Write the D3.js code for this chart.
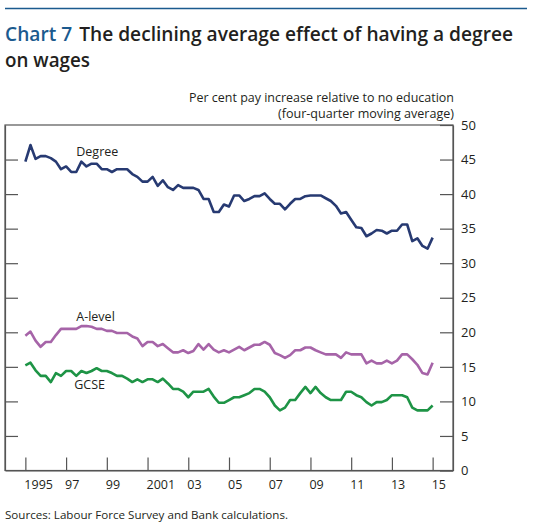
<!DOCTYPE html>
<html>
<head>
<meta charset="utf-8">
<script src="https://cdn.jsdelivr.net/npm/d3@7"></script>
<style>
  body { margin: 0; background: #fff; }
</style>
</head>
<body>
<div id="chart"></div>
<script>
// quarterly values, 1995 Q1 to 2015 Q1
var degree = [
  44.7, 47.1, 45.1, 45.5, 45.5, 45.2, 44.7, 43.6, 44.0, 43.2,
  43.2, 44.7, 44.0, 44.4, 44.4, 43.6, 43.6, 43.2, 43.6, 43.6,
  43.6, 42.9, 42.5, 41.8, 41.8, 42.5, 41.2, 42.0, 41.0, 40.6,
  41.3, 40.9, 40.9, 40.9, 40.6, 39.3, 39.3, 37.4, 37.4, 38.5,
  38.2, 39.8, 39.8, 39.0, 39.3, 39.7, 39.7, 40.1, 39.3, 38.6,
  38.6, 37.8, 38.6, 39.3, 39.3, 39.7, 39.8, 39.8, 39.8, 39.4,
  39.0, 38.3, 37.2, 37.4, 36.3, 35.2, 35.1, 33.9, 34.3, 34.8,
  34.7, 34.3, 34.7, 34.7, 35.6, 35.6, 33.2, 33.6, 32.5, 32.1,
  33.7
];
var aLevel = [
  19.5, 20.1, 18.8, 17.9, 18.6, 18.6, 19.6, 20.5, 20.5, 20.5,
  20.5, 20.9, 20.9, 20.8, 20.5, 20.5, 20.2, 20.2, 19.9, 19.9,
  19.9, 19.4, 19.1, 18.0, 18.6, 18.6, 18.0, 18.3, 17.7, 17.1,
  17.1, 17.4, 17.0, 17.3, 18.3, 17.5, 18.3, 17.5, 17.1, 17.4,
  17.1, 17.5, 17.9, 17.4, 17.8, 18.2, 18.2, 18.6, 18.2, 17.0,
  16.7, 16.3, 16.7, 17.4, 17.4, 17.8, 17.8, 17.4, 17.1, 16.8,
  16.8, 16.8, 16.3, 17.1, 16.8, 16.8, 16.8, 15.5, 15.9, 15.5,
  15.5, 15.9, 15.5, 15.9, 16.8, 16.8, 16.1, 15.3, 14.1, 13.9,
  15.6
];
var gcse = [
  15.2, 15.6, 14.5, 13.7, 13.7, 12.8, 14.1, 13.7, 14.4, 14.4,
  13.7, 14.4, 14.1, 14.4, 14.8, 14.4, 14.4, 14.1, 13.7, 13.7,
  13.3, 12.8, 13.2, 12.8, 13.2, 13.2, 12.8, 13.3, 12.6, 11.8,
  11.8, 11.4, 10.6, 11.4, 11.4, 11.4, 11.8, 10.7, 9.8, 9.8,
  10.2, 10.6, 10.6, 10.9, 11.2, 11.8, 11.8, 11.4, 10.6, 9.4,
  8.7, 9.1, 10.2, 10.2, 11.2, 12.1, 11.2, 12.1, 11.2, 10.6,
  10.2, 10.2, 10.2, 11.4, 11.4, 10.9, 10.6, 9.9, 9.4, 9.9,
  9.9, 10.2, 10.9, 10.9, 10.9, 10.6, 9.1, 8.7, 8.7, 8.7,
  9.4
];
var firstYear = 1995;

var tickYears = [1995, 1997, 1999, 2001, 2003, 2005, 2007, 2009, 2011, 2013, 2015];
var tickLabels = ['1995', '97', '99', '2001', '03', '05', '07', '09', '11', '13', '15'];
var yTicks = [0, 5, 10, 15, 20, 25, 30, 35, 40, 45, 50];

var seriesNames = ['Degree', 'A-level', 'GCSE'];
var seriesColors = ['#273a72', '#a664a8', '#1e9446'];

var W = 535, H = 526;
var font = "'Open Sans', 'Noto Sans', sans-serif";
var ink = '#231f20', axisCol = '#555';

var svg = d3.select('#chart').append('svg')
  .attr('width', W).attr('height', H)
  .style('font-family', font);

function fit(t, w) {
  t.attr('textLength', w).attr('lengthAdjust', 'spacingAndGlyphs');
  return t;
}

// header
svg.append('line').attr('x1', 5).attr('x2', 527).attr('y1', 8.5).attr('y2', 8.5)
  .attr('stroke', '#1b5a8e').attr('stroke-width', 1.5);

var t1 = svg.append('text').attr('x', 5).attr('y', 40.7)
  .style('font-size', '19px').style('font-weight', 600).attr('fill', ink);
t1.append('tspan').attr('fill', '#1b5a8e').text('Chart 7');
t1.append('tspan').attr('dx', 7).text('The declining average effect of having a degree');
fit(t1, 508);
fit(svg.append('text').attr('x', 5).attr('y', 67)
  .style('font-size', '19px').style('font-weight', 600).attr('fill', ink).text('on wages'), 85);

fit(svg.append('text').attr('x', 454).attr('y', 102).attr('text-anchor', 'end')
  .style('font-size', '12px').attr('fill', ink)
  .text('Per cent pay increase relative to no education'), 265);
fit(svg.append('text').attr('x', 454).attr('y', 118).attr('text-anchor', 'end')
  .style('font-size', '12px').attr('fill', ink)
  .text('(four-quarter moving average)'), 176);

// scales
var x = d3.scaleLinear().domain([1994, 2016]).range([5, 453]);
var y = d3.scaleLinear().domain([0, 50]).range([470.5, 125]);

// frame
svg.append('rect').attr('x', x(1994)).attr('y', y(50))
  .attr('width', x(2016) - x(1994)).attr('height', y(0) - y(50))
  .attr('fill', 'none').attr('stroke', axisCol).attr('stroke-width', 1.2);

var inner = yTicks.filter(function(d) { return d > 0 && d < 50; });

var gl = svg.append('g').attr('transform', 'translate(' + x(1994) + ',0)')
  .call(d3.axisLeft(y).tickValues(inner).tickSizeInner(-13).tickSizeOuter(0).tickFormat(''));

var gr = svg.append('g').attr('transform', 'translate(' + x(2016) + ',0)')
  .call(d3.axisRight(y).tickValues(yTicks).tickSizeInner(-13).tickSizeOuter(0).tickPadding(8));
gr.selectAll('text').style('font-size', '13px').attr('fill', ink).style('font-family', font);

var gb = svg.append('g').attr('transform', 'translate(0,' + y(0) + ')')
  .call(d3.axisBottom(x).tickValues(tickYears).tickSizeInner(-13).tickSizeOuter(0).tickPadding(10)
    .tickFormat(function(d, i) { return tickLabels[i]; }));
gb.selectAll('text').style('font-size', '12.5px').attr('fill', ink)
  .style('font-family', font).attr('text-anchor', 'start').attr('x', -1.5);

[gl, gr, gb].forEach(function(g) {
  g.selectAll('.domain').attr('stroke', axisCol).attr('stroke-width', 1.2);
  g.selectAll('.tick line').attr('stroke', axisCol).attr('stroke-width', 1.2);
});

// lines
var line = d3.line()
  .x(function(d, i) { return x(firstYear + i / 4); })
  .y(function(d) { return y(d); });

[degree, aLevel, gcse].forEach(function(s, k) {
  svg.append('path').datum(s)
    .attr('d', line)
    .attr('fill', 'none')
    .attr('stroke', seriesColors[k])
    .attr('stroke-width', 2.6)
    .attr('stroke-linejoin', 'round');
});

// series labels
var labelPos = [[1997.5, 45.5], [1997.5, 21.7], [1997.4, 11.8]];
seriesNames.forEach(function(n, k) {
  svg.append('text')
    .attr('x', x(labelPos[k][0])).attr('y', y(labelPos[k][1]))
    .style('font-size', '12.5px').attr('fill', ink)
    .text(n);
});

fit(svg.append('text').attr('x', 5).attr('y', 519)
  .style('font-size', '11px').attr('fill', ink)
  .text('Sources:  Labour Force Survey and Bank calculations.'), 283);
</script>
</body>
</html>
